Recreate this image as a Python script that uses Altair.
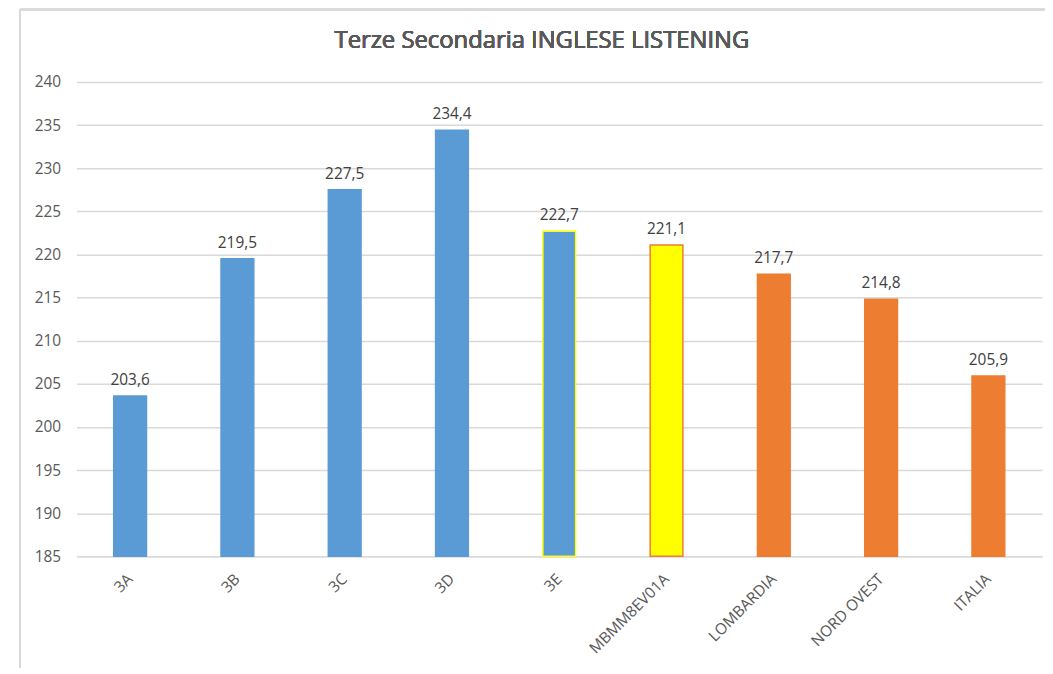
import altair as alt
import pandas as pd

categories = ["3A", "3B", "3C", "3D", "3E", "MBMM8EV01A", "LOMBARDIA", "NORD OVEST", "ITALIA"]
values = [203.6, 219.5, 227.5, 234.4, 222.7, 221.1, 217.7, 214.8, 205.9]
fills = ["#5B9BD5", "#5B9BD5", "#5B9BD5", "#5B9BD5", "#5B9BD5", "#FFFF00", "#ED7D31", "#ED7D31", "#ED7D31"]
strokes = ["#5B9BD5", "#5B9BD5", "#5B9BD5", "#5B9BD5", "#FFFF00", "#ED7D31", "#ED7D31", "#ED7D31", "#ED7D31"]
y_ticks = list(range(185, 241, 5))
title_text = "Terze Secondaria INGLESE LISTENING"

df = pd.DataFrame({"cat": categories, "value": values, "fill": fills, "stroke": strokes})

FONT = "Open Sans"
GREY = "#595959"

x_enc = alt.X("cat:N", sort=categories, title=None,
              axis=alt.Axis(labelAngle=-45, labelAlign="right", labelBaseline="middle",
                            labelPadding=20, labelFontSize=15.5, labelColor=GREY, labelFont=FONT,
                            ticks=False, domain=True, domainColor="#d9d9d9", domainWidth=1.5))
y_scale = alt.Scale(domain=[185, 240], nice=False, zero=False)

bars = alt.Chart(df).mark_bar(width=33, strokeWidth=1.5).encode(
    x=x_enc,
    y=alt.Y("value:Q", scale=y_scale, title=None,
            axis=alt.Axis(values=y_ticks, domain=False, ticks=False, grid=True,
                          gridColor="#d9d9d9", gridWidth=1.5, labelFontSize=15.5,
                          labelColor=GREY, labelFont=FONT, labelPadding=16)),
    y2=alt.datum(185),
    fill=alt.Fill("fill:N", scale=None),
    stroke=alt.Stroke("stroke:N", scale=None),
)

labels = alt.Chart(df).transform_calculate(
    lab="replace(format(datum.value, '.1f'), '.', ',')"
).mark_text(baseline="bottom", dy=-8, fontSize=15.5, color="#404040", font=FONT).encode(
    x=alt.X("cat:N", sort=categories),
    y=alt.Y("value:Q", scale=y_scale),
    text="lab:N",
)

title = alt.Chart(df).mark_text(fontSize=24, font=FONT, color=GREY, baseline="middle",
                                align="center").encode(
    x=alt.value(469), y=alt.value(-41), text=alt.value(title_text)
)

border_left = alt.Chart(df).mark_rule(color="#d9d9d9", strokeWidth=1.5).encode(
    x=alt.value(-57), y=alt.value(-73), y2=alt.value(600)
)
border_top = alt.Chart(df).mark_rule(color="#d9d9d9", strokeWidth=1.5).encode(
    x=alt.value(-57), x2=alt.value(1000), y=alt.value(-73)
)

chart = alt.layer(border_left, border_top, bars, labels, title).properties(
    width=973, height=478,
    autosize=alt.AutoSizeParams(type="none"),
    padding={"left": 69, "top": 72, "right": 3, "bottom": 110},
).configure_view(stroke=None)

chart.save("out.html", embed_options={"renderer": "svg", "actions": False})
